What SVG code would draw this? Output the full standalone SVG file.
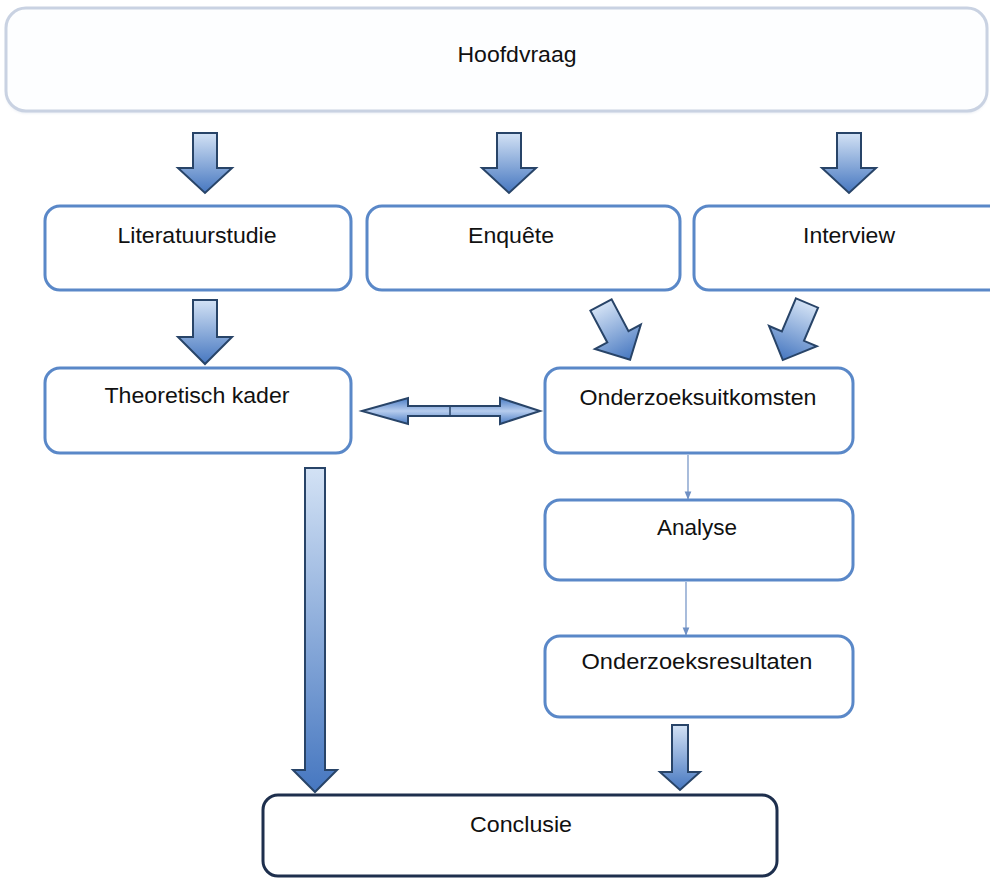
<svg xmlns="http://www.w3.org/2000/svg" width="990" height="882" viewBox="0 0 990 882">
  <defs>
    <linearGradient id="gradDown" x1="0" y1="0" x2="0" y2="1">
      <stop offset="0" stop-color="#d3e2f5"/>
      <stop offset="1" stop-color="#4677c0"/>
    </linearGradient>
    <linearGradient id="gradSide" x1="0" y1="0" x2="0" y2="1">
      <stop offset="0" stop-color="#4a7cc4"/>
      <stop offset="0.5" stop-color="#b7cdee"/>
      <stop offset="1" stop-color="#4a7cc4"/>
    </linearGradient>
    <marker id="thinHead" viewBox="0 0 10 10" refX="9" refY="5" markerWidth="7" markerHeight="7" orient="auto">
      <path d="M0,1 L10,5 L0,9 z" fill="#6f90c4"/>
    </marker>
    <filter id="softShadow" x="-5%" y="-20%" width="110%" height="140%">
      <feGaussianBlur stdDeviation="1.5"/>
    </filter>
  </defs>
  <style>
    .box { fill: #ffffff; stroke: #5a88c8; stroke-width: 3; }
    .top { fill: #fdfeff; stroke: #c9d2e2; stroke-width: 3; }
    .end { fill: #ffffff; stroke: #1e2f4d; stroke-width: 3; }
    .label { font-family: "Liberation Sans", Arial, sans-serif; font-size: 22px; fill: #111111; text-anchor: middle; }
    .block { fill: url(#gradDown); stroke: #284468; stroke-width: 2; stroke-linejoin: miter; }
    .dbl { fill: url(#gradSide); stroke: #284468; stroke-width: 2; }
    .thin { stroke: #6f90c4; stroke-width: 1.2; fill: none; marker-end: url(#thinHead); }
  </style>

  <rect width="990" height="882" fill="#ffffff"/>

  <!-- nodes -->
  <g id="hoofdvraag">
    <rect x="6" y="9" width="981" height="104" rx="20" fill="#e3e8f1" filter="url(#softShadow)"/>
    <rect class="top" x="6" y="8" width="981" height="103" rx="20"/>
    <text class="label" x="517" y="62" textLength="119" lengthAdjust="spacingAndGlyphs">Hoofdvraag</text>
  </g>

  <g id="literatuurstudie">
    <rect class="box" x="45" y="206" width="306" height="84" rx="15"/>
    <text class="label" x="197" y="243" textLength="159" lengthAdjust="spacingAndGlyphs">Literatuurstudie</text>
  </g>

  <g id="enquete">
    <rect class="box" x="367" y="206" width="313" height="84" rx="15"/>
    <text class="label" x="511" y="243" textLength="86" lengthAdjust="spacingAndGlyphs">Enquête</text>
  </g>

  <g id="interview">
    <rect class="box" x="694" y="206" width="320" height="84" rx="15"/>
    <text class="label" x="849" y="243" textLength="92" lengthAdjust="spacingAndGlyphs">Interview</text>
  </g>

  <g id="theoretisch-kader">
    <rect class="box" x="45" y="368" width="306" height="85" rx="15"/>
    <text class="label" x="197" y="403" textLength="185" lengthAdjust="spacingAndGlyphs">Theoretisch kader</text>
  </g>

  <g id="onderzoeksuitkomsten">
    <rect class="box" x="545" y="368" width="308" height="85" rx="15"/>
    <text class="label" x="698" y="405" textLength="237" lengthAdjust="spacingAndGlyphs">Onderzoeksuitkomsten</text>
  </g>

  <g id="analyse">
    <rect class="box" x="545" y="500" width="308" height="80" rx="15"/>
    <text class="label" x="697" y="535" textLength="80" lengthAdjust="spacingAndGlyphs">Analyse</text>
  </g>

  <g id="onderzoeksresultaten">
    <rect class="box" x="545" y="636" width="308" height="81" rx="15"/>
    <text class="label" x="697" y="669" textLength="231" lengthAdjust="spacingAndGlyphs">Onderzoeksresultaten</text>
  </g>

  <g id="conclusie">
    <rect class="end" x="263" y="795" width="514" height="81" rx="15"/>
    <text class="label" x="521" y="832" textLength="102" lengthAdjust="spacingAndGlyphs">Conclusie</text>
  </g>

  <!-- connectors -->
  <g id="connectors">
    <!-- block arrows from the main question -->
    <path class="block" d="M193,133 H217 V168 H232 L205,193 L178,168 H193 Z"/>
    <path class="block" d="M497,133 H521 V168 H536 L509,193 L482,168 H497 Z"/>
    <path class="block" d="M837,133 H861 V168 H876 L849,193 L822,168 H837 Z"/>

    <!-- literature to theoretical framework -->
    <path class="block" d="M193,300 H217 V337 H232 L205,364 L178,337 H193 Z"/>

    <!-- survey and interview to findings (angled) -->
    <path class="block" transform="translate(601,305) rotate(-28)" d="M-12,0 H12 V36 H26 L0,62 L-26,36 H-12 Z"/>
    <path class="block" transform="translate(807,303) rotate(23)" d="M-12,0 H12 V36 H26 L0,62 L-26,36 H-12 Z"/>

    <!-- two-way arrow between framework and findings -->
    <path class="dbl" d="M362,411 L408,398 V406 H500 V398 L540,411 L500,424 V416 H408 V424 Z"/>
    <line x1="450" y1="406" x2="450" y2="416" stroke="#284468" stroke-width="1.5"/>

    <!-- thin step arrows -->
    <line class="thin" x1="688" y1="455" x2="688" y2="499"/>
    <line class="thin" x1="686" y1="582" x2="686" y2="635"/>

    <!-- long arrow from framework to conclusion -->
    <path class="block" d="M305,468 H325 V770 H337 L315,792 L293,770 H305 Z"/>

    <!-- results to conclusion -->
    <path class="block" d="M672,725 H688 V772 H700 L680,790 L660,772 H672 Z"/>
  </g>
</svg>
